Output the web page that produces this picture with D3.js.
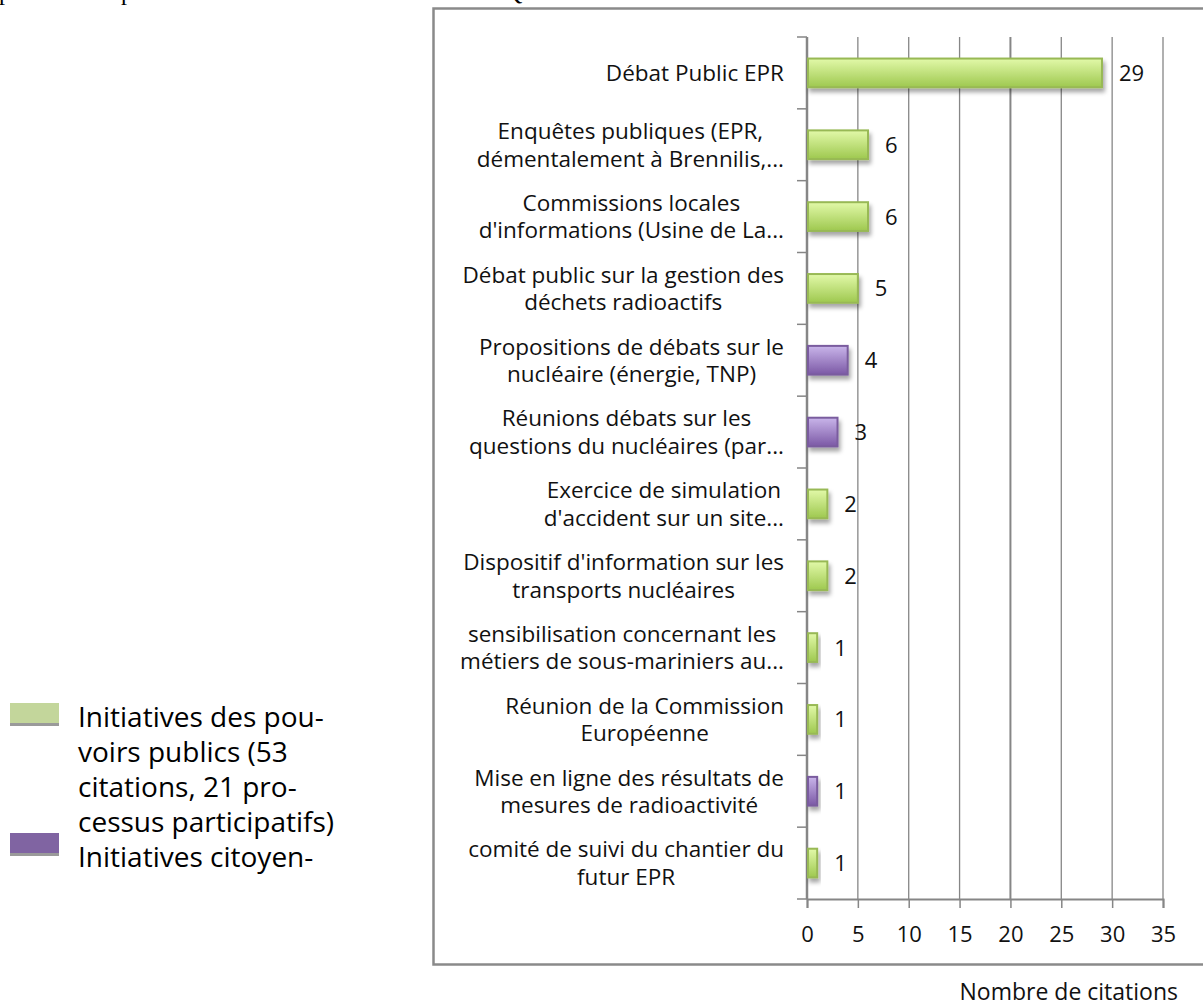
<!DOCTYPE html>
<html>
<head>
<meta charset="utf-8">
<script src="https://cdnjs.cloudflare.com/ajax/libs/d3/7.8.5/d3.min.js"></script>
<style>
  body { margin: 0; background: #fff; }
  svg { display: block; }
</style>
</head>
<body>
<div id="chart"></div>
<script>
var width = 1203,
    height = 1003;

// categories, top to bottom (each entry = label lines)
var categories = [
    ["Débat Public EPR"],
    ["Enquêtes publiques (EPR,", "démentalement à Brennilis,..."],
    ["Commissions locales", "d'informations (Usine de La..."],
    ["Débat public sur la gestion des", "déchets radioactifs"],
    ["Propositions de débats sur le", "nucléaire (énergie, TNP)"],
    ["Réunions débats sur les", "questions du nucléaires (par..."],
    ["Exercice de simulation", "d'accident sur un site..."],
    ["Dispositif d'information sur les", "transports nucléaires"],
    ["sensibilisation concernant les", "métiers de sous-mariniers au..."],
    ["Réunion de la Commission", "Européenne"],
    ["Mise en ligne des résultats de", "mesures de radioactivité"],
    ["comité de suivi du chantier du", "futur EPR"]
];
var values = [29, 6, 6, 5, 4, 3, 2, 2, 1, 1, 1, 1];
// 0 = pouvoirs publics (vert), 1 = citoyennes (violet)
var series = [0, 0, 0, 0, 1, 1, 0, 0, 0, 0, 1, 0];
var xTicks = [0, 5, 10, 15, 20, 25, 30, 35];
var legendLines = [
    "Initiatives des pou-",
    "voirs publics (53",
    "citations, 21 pro-",
    "cessus participatifs)",
    "Initiatives citoyen-"
];
var axisTitle = "Nombre de citations";

var svg = d3.select("#chart")
    .append("svg")
    .attr("width", width)
    .attr("height", height);

var defs = svg.append("defs");

function grad(id, top, bottom) {
    var g = defs.append("linearGradient")
        .attr("id", id)
        .attr("x1", 0).attr("y1", 0).attr("x2", 0).attr("y2", 1);
    g.append("stop").attr("offset", "0%").attr("stop-color", top);
    g.append("stop").attr("offset", "100%").attr("stop-color", bottom);
}
grad("gGreen", "#e2f9a9", "#9ec84f");
grad("gPurple", "#c9b5ea", "#7b58a5");

var shadow = defs.append("filter")
    .attr("id", "shadow")
    .attr("x", "-20%").attr("y", "-30%")
    .attr("width", "160%").attr("height", "180%");
shadow.append("feDropShadow")
    .attr("dx", 2).attr("dy", 4)
    .attr("stdDeviation", 2.2)
    .attr("flood-color", "#000")
    .attr("flood-opacity", 0.35);

var fills = ["url(#gGreen)", "url(#gPurple)"],
    strokes = ["#98b954", "#7a5c9e"],
    swatch = ["#c3d69b", "#8064a2"];

// clipped line of the surrounding document text (cut by the page edge, as in the source)
var topText = svg.append("g")
    .style("font-family", "'Liberation Serif', serif")
    .style("font-size", "24px");
[["p", -1], ["p", 121], ["Q", 505]].forEach(function (t) {
    topText.append("text").attr("x", t[1]).attr("y", 0).text(t[0]);
});

// chart frame
svg.append("rect")
    .attr("x", 433.5)
    .attr("y", 8.5)
    .attr("width", 820)
    .attr("height", 956)
    .attr("fill", "none")
    .attr("stroke", "#8a8a8a")
    .attr("stroke-width", 2.5);

var x = d3.scaleLinear()
    .domain([0, 35])
    .range([807, 1163]);

var y = d3.scaleBand()
    .domain(d3.range(categories.length))
    .range([37, 899])
    .paddingInner(0.6)
    .paddingOuter(0.3);

var step = y.step();
var plotTop = 37, plotBottom = 899;

// vertical gridlines
svg.append("g")
    .selectAll("line")
    .data(xTicks.slice(1))
    .enter().append("line")
    .attr("x1", function (d) { return x(d); })
    .attr("x2", function (d) { return x(d); })
    .attr("y1", plotTop)
    .attr("y2", plotBottom)
    .attr("stroke", "#868686")
    .attr("stroke-width", function (d) { return d === 20 ? 2 : 1.3; });

// bottom axis
var xAxis = svg.append("g")
    .attr("transform", "translate(0," + plotBottom + ")")
    .call(d3.axisBottom(x).tickValues(xTicks).tickSize(9).tickPadding(18));
xAxis.select(".domain").attr("stroke", "#868686").attr("stroke-width", 2);
xAxis.selectAll(".tick line").attr("stroke", "#868686").attr("stroke-width", 1.5);
xAxis.selectAll(".tick text")
    .style("font-family", "'Open Sans', sans-serif")
    .style("font-size", "22px")
    .attr("fill", "#111");

// left axis line and band ticks
svg.append("line")
    .attr("x1", x(0)).attr("x2", x(0))
    .attr("y1", plotTop).attr("y2", plotBottom)
    .attr("stroke", "#868686").attr("stroke-width", 2.5);

svg.append("g")
    .selectAll("line")
    .data(d3.range(categories.length + 1))
    .enter().append("line")
    .attr("x1", x(0) - 10)
    .attr("x2", x(0))
    .attr("y1", function (i) { return plotTop + i * step; })
    .attr("y2", function (i) { return plotTop + i * step; })
    .attr("stroke", "#868686")
    .attr("stroke-width", 1.5);

// bars
svg.append("g")
    .selectAll("rect")
    .data(values)
    .enter().append("rect")
    .attr("x", x(0) + 1)
    .attr("y", function (d, i) { return y(i); })
    .attr("width", function (d) { return x(d) - x(0) - 1; })
    .attr("height", y.bandwidth())
    .attr("fill", function (d, i) { return fills[series[i]]; })
    .attr("stroke", function (d, i) { return strokes[series[i]]; })
    .attr("stroke-width", 2)
    .attr("filter", "url(#shadow)");

// value labels
svg.append("g")
    .selectAll("text")
    .data(values)
    .enter().append("text")
    .attr("x", function (d) { return x(d) + 17; })
    .attr("y", function (d, i) { return y(i) + y.bandwidth() / 2; })
    .attr("dy", "0.36em")
    .style("font-family", "'Open Sans', sans-serif")
    .style("font-size", "22px")
    .attr("fill", "#111")
    .text(function (d) { return d; });

// category labels, centred lines, right edge near the axis
var labels = svg.append("g")
    .style("font-family", "'Open Sans', sans-serif")
    .style("font-size", "22.5px")
    .attr("fill", "#111");

categories.forEach(function (lines, i) {
    var cy = y(i) + y.bandwidth() / 2;
    var lineH = 27.5;
    var t = labels.append("text")
        .attr("text-anchor", "middle")
        .attr("y", cy - (lines.length - 1) * lineH / 2);
    lines.forEach(function (s, k) {
        t.append("tspan")
            .attr("x", 0)
            .attr("dy", k === 0 ? "0.36em" : lineH)
            .text(s);
    });
    // right-align the centred block to the axis
    var w = t.node().getBBox().width;
    t.attr("transform", "translate(" + (784 - w / 2) + ",0)");
});

// legend
var legend = svg.append("g")
    .style("font-family", "'Open Sans', sans-serif")
    .style("font-size", "28px")
    .attr("fill", "#000");

legend.selectAll("text")
    .data(legendLines)
    .enter().append("text")
    .attr("x", 78)
    .attr("y", function (d, i) { return 727 + i * 35; })
    .text(function (d) { return d; });

[[0, 703], [1, 833]].forEach(function (s) {
    legend.append("rect")
        .attr("x", 10).attr("y", s[1])
        .attr("width", 49).attr("height", 20)
        .attr("fill", swatch[s[0]]);
    legend.append("rect")
        .attr("x", 10).attr("y", s[1] + 20)
        .attr("width", 49).attr("height", 3)
        .attr("fill", "#9a9a9a");
});

// axis title, outside the frame
svg.append("text")
    .attr("x", 1178)
    .attr("y", 1000)
    .attr("text-anchor", "end")
    .style("font-family", "'Open Sans', sans-serif")
    .style("font-size", "23px")
    .attr("fill", "#111")
    .text(axisTitle);
</script>
</body>
</html>
